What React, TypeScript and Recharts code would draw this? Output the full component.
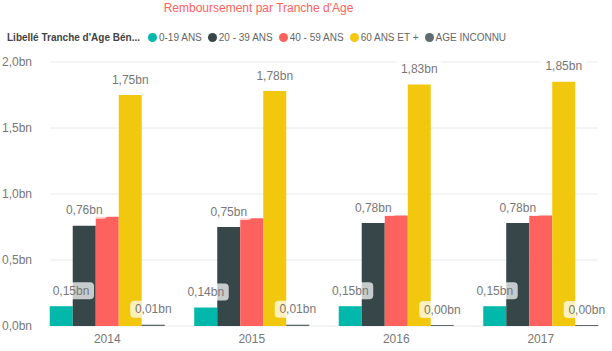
import React from "react";
import { BarChart, Bar, XAxis, YAxis, CartesianGrid, LabelList } from "recharts";

const years = ["2014", "2015", "2016", "2017"];
const age0to19 = [0.15, 0.14, 0.15, 0.15];
const age20to39 = [0.76, 0.75, 0.78, 0.78];
const age40to59 = [0.828, 0.816, 0.838, 0.838];
const age60plus = [1.75, 1.78, 1.83, 1.85];
const ageUnknown = [0.01, 0.01, 0.004, 0.004];
const yTicks = [0, 0.5, 1, 1.5, 2];

const seriesNames = ["0-19 ANS", "20 - 39 ANS", "40 - 59 ANS", "60 ANS ET +", "AGE INCONNU"];
const colors = ["#01B8AA", "#374649", "#FD625E", "#F2C80F", "#5F6B6D"];

const data = years.map((y, i) => ({
  year: y,
  a: age0to19[i],
  b: age20to39[i],
  c: age40to59[i],
  d: age60plus[i],
  e: ageUnknown[i],
}));

const FONT = "'Liberation Sans', Arial, sans-serif";
const fmt = (v: number) => v.toFixed(2).replace(".", ",") + "bn";
const fmtTick = (v: number) => v.toFixed(1).replace(".", ",") + "bn";

const PLOT_LEFT = 50;

const makeLabel = () => (props: any) => {
  const { x, y, width, value } = props;
  const text = fmt(Number(value));
  const w = 46;
  const h = 17;
  let cx = Number(x) + Number(width) / 2;
  if (cx - w / 2 < PLOT_LEFT - 2) cx = PLOT_LEFT - 2 + w / 2;
  const cy = Number(y) - 15.5;
  return (
    <g>
      <rect x={cx - w / 2} y={cy - h / 2} width={w} height={h} rx={4} fill="rgba(255,255,255,0.72)" />
      <text x={cx} y={cy} textAnchor="middle" dominantBaseline="central" fontSize={12} fill="#777" fontFamily={FONT}>
        {text}
      </text>
    </g>
  );
};

export default function App() {
  return (
    <div style={{ position: "absolute", left: 0, top: 0, width: 612, height: 351, background: "#fff", fontFamily: FONT }}>
      <div style={{ position: "absolute", top: 0, left: 0, width: 517, textAlign: "center", color: "#FD625E", fontSize: 12, lineHeight: "17px" }}>
        Remboursement par Tranche d'Age
      </div>
      <div style={{ position: "absolute", top: 30, left: 7, display: "flex", alignItems: "center", fontSize: 10, lineHeight: "15px", color: "#666", whiteSpace: "nowrap" }}>
        <span style={{ fontWeight: "bold", color: "#444", marginRight: 8 }}>Libellé Tranche d'Age Bén...</span>
        {seriesNames.map((n, i) => (
          <span key={n} style={{ display: "flex", alignItems: "center", marginRight: 6 }}>
            <span style={{ display: "inline-block", width: 9, height: 9, borderRadius: 5, background: colors[i], marginRight: 2 }} />
            {n}
          </span>
        ))}
      </div>
      <div style={{ position: "absolute", left: 0, top: 0 }}>
        <BarChart width={612} height={351} data={data} margin={{ top: 62, right: 14, bottom: 0, left: 0 }} barGap={0} barCategoryGap="10.2%">
          <CartesianGrid horizontal vertical={false} stroke="#e8e8e8" />
          <XAxis
            dataKey="year"
            height={25}
            padding={{ left: -15, right: -15 }}
            tickLine={false}
            axisLine={false}
            tick={{ fill: "#777", fontSize: 12, fontFamily: FONT }}
          />
          <YAxis
            width={50}
            domain={[0, 2]}
            ticks={yTicks}
            tickFormatter={fmtTick}
            tickLine={false}
            axisLine={false}
            tickMargin={12}
            tick={{ fill: "#777", fontSize: 12, fontFamily: FONT }}
          />
          <Bar dataKey="a" fill={colors[0]} isAnimationActive={false}>
            <LabelList dataKey="a" content={makeLabel()} />
          </Bar>
          <Bar dataKey="b" fill={colors[1]} isAnimationActive={false}>
            <LabelList dataKey="b" content={makeLabel()} />
          </Bar>
          <Bar dataKey="c" fill={colors[2]} isAnimationActive={false} />
          <Bar dataKey="d" fill={colors[3]} isAnimationActive={false}>
            <LabelList dataKey="d" content={makeLabel()} />
          </Bar>
          <Bar dataKey="e" fill={colors[4]} isAnimationActive={false} minPointSize={1}>
            <LabelList dataKey="e" content={makeLabel()} />
          </Bar>
        </BarChart>
      </div>
    </div>
  );
}
